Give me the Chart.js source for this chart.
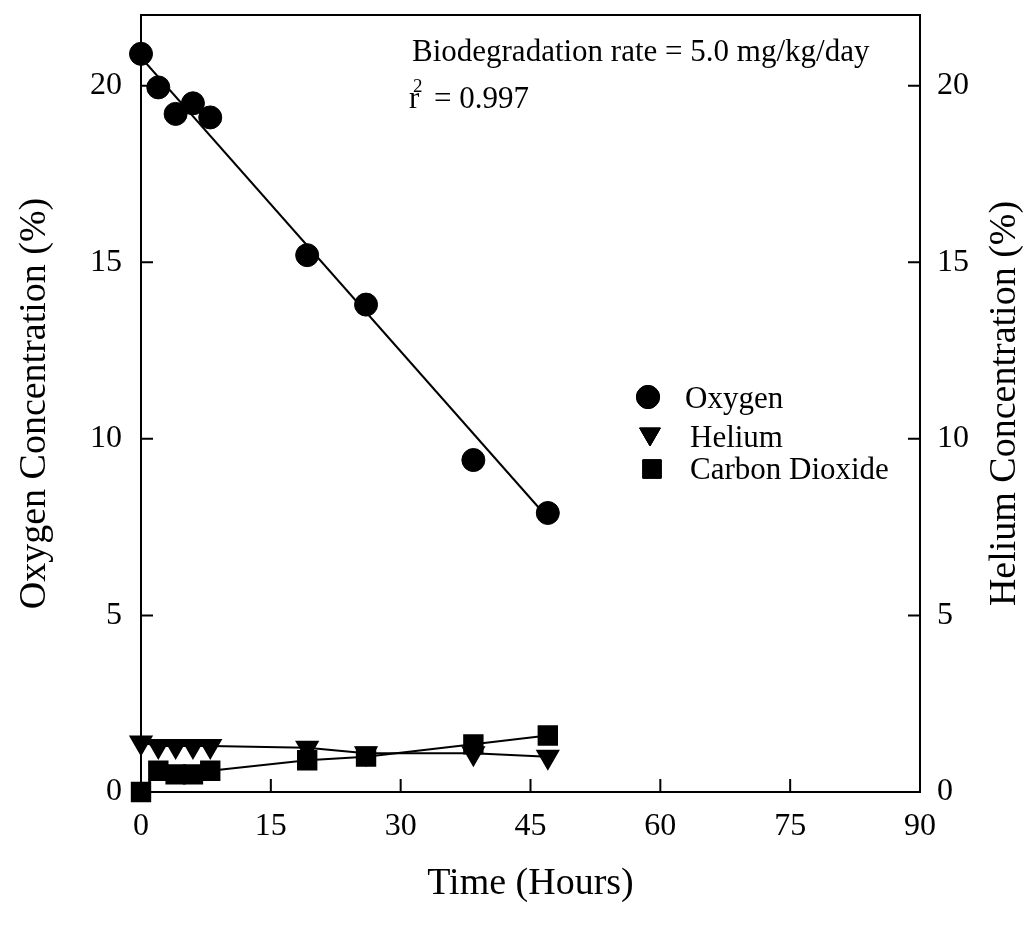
<!DOCTYPE html>
<html>
<head>
<meta charset="utf-8">
<script src="https://cdn.jsdelivr.net/npm/chart.js@4.4.1/dist/chart.umd.min.js"></script>
<style>
  html, body { margin: 0; padding: 0; background: #fff; }
</style>
</head>
<body>
<canvas id="bioChart" width="1034" height="928"></canvas>
<script>
// values
const hours = [0, 2, 4, 6, 8, 19.2, 26, 38.4, 47];
const oxygen = [20.9, 19.95, 19.2, 19.5, 19.1, 15.2, 13.8, 9.4, 7.9];
const helium = [1.4, 1.3, 1.3, 1.3, 1.3, 1.25, 1.1, 1.1, 1.0];
const carbonDioxide = [0, 0.6, 0.5, 0.5, 0.6, 0.9, 1.0, 1.35, 1.6];
const fitHours = [0, 46.5];
const fitOxygen = [20.8, 7.9];
const xTicks = [0, 15, 30, 45, 60, 75, 90];
const yTicks = [0, 5, 10, 15, 20];

const serif = "'Liberation Serif', 'DejaVu Serif', serif";

function toPoints(xs, ys) {
  return xs.map((x, i) => ({ x: x, y: ys[i] }));
}

// box, inward tick marks
const framePlugin = {
  id: 'frame',
  beforeDatasetsDraw(chart) {
    const { ctx, chartArea: a, scales } = chart;
    ctx.save();
    ctx.strokeStyle = '#000';
    ctx.lineWidth = 2;
    ctx.strokeRect(a.left, a.top, a.right - a.left, a.bottom - a.top);
    ctx.beginPath();
    xTicks.forEach(v => {
      if (v === xTicks[0] || v === xTicks[xTicks.length - 1]) return;
      const px = scales.x.getPixelForValue(v);
      ctx.moveTo(px, a.bottom);
      ctx.lineTo(px, a.bottom - 13);
    });
    yTicks.forEach(v => {
      if (v === 0) return;
      const py = scales.y.getPixelForValue(v);
      ctx.moveTo(a.left, py);
      ctx.lineTo(a.left + 12, py);
      ctx.moveTo(a.right, py);
      ctx.lineTo(a.right - 12, py);
    });
    ctx.stroke();
    ctx.restore();
  },
  afterDraw(chart) {
    const { ctx, chartArea: a } = chart;
    ctx.save();
    ctx.fillStyle = '#000';

    // right axis title (reads bottom to top like the left one)
    ctx.font = '38px ' + serif;
    ctx.textAlign = 'center';
    ctx.textBaseline = 'middle';
    ctx.translate(1005, (a.top + a.bottom) / 2);
    ctx.rotate(-Math.PI / 2);
    ctx.fillText('Helium Concentration (%)', 0, 0);
    ctx.setTransform(1, 0, 0, 1, 0, 0);

    // annotation
    ctx.textAlign = 'left';
    ctx.textBaseline = 'alphabetic';
    ctx.font = '31px ' + serif;
    ctx.fillText('Biodegradation rate = 5.0 mg/kg/day', 412, 61);
    ctx.fillText('r', 409, 108);
    ctx.font = '19px ' + serif;
    ctx.fillText('2', 413, 92);
    ctx.font = '31px ' + serif;
    ctx.fillText('= 0.997', 434, 108);

    // legend
    const rows = [
      { ds: 0, mx: 648, my: 397, tx: 685, ty: 408 },
      { ds: 1, mx: 650, my: 434, tx: 690, ty: 447 },
      { ds: 2, mx: 652, my: 469, tx: 690, ty: 479 }
    ];
    rows.forEach(r => {
      const d = chart.data.datasets[r.ds];
      Chart.helpers.drawPoint(ctx, {
        pointStyle: d.pointStyle,
        radius: d.pointRadius,
        rotation: d.pointRotation || 0,
        borderWidth: 1
      }, r.mx, r.my);
      ctx.fillStyle = '#000';
      ctx.strokeStyle = '#000';
      ctx.fill();
      ctx.stroke();
      ctx.font = '31px ' + serif;
      ctx.fillText(d.label, r.tx, r.ty);
    });
    ctx.restore();
  }
};

const ctxBio = document.getElementById('bioChart').getContext('2d');

const bioChart = new Chart(ctxBio, {
  type: 'scatter',
  data: {
    datasets: [
      {
        label: 'Oxygen',
        data: toPoints(hours, oxygen),
        pointStyle: 'circle',
        pointRadius: 11.5,
        pointBackgroundColor: '#000',
        pointBorderColor: '#000',
        showLine: false,
        clip: false,
        yAxisID: 'y'
      },
      {
        label: 'Helium',
        data: toPoints(hours, helium),
        pointStyle: 'triangle',
        pointRotation: 180,
        pointRadius: 12,
        pointBackgroundColor: '#000',
        pointBorderColor: '#000',
        borderColor: '#000',
        borderWidth: 2,
        showLine: true,
        clip: false,
        yAxisID: 'y2'
      },
      {
        label: 'Carbon Dioxide',
        data: toPoints(hours, carbonDioxide),
        pointStyle: 'rect',
        pointRadius: 13,
        pointBackgroundColor: '#000',
        pointBorderColor: '#000',
        borderColor: '#000',
        borderWidth: 2,
        showLine: true,
        clip: false,
        yAxisID: 'y'
      },
      {
        label: 'Oxygen fit',
        data: toPoints(fitHours, fitOxygen),
        pointRadius: 0,
        borderColor: '#000',
        borderWidth: 2,
        showLine: true,
        yAxisID: 'y'
      }
    ]
  },
  options: {
    responsive: false,
    animation: false,
    layout: { padding: { top: 14, left: 0, right: 0, bottom: 0 } },
    plugins: {
      legend: { display: false },
      tooltip: { enabled: false }
    },
    scales: {
      x: {
        type: 'linear',
        position: 'bottom',
        min: 0,
        max: 90,
        afterBuildTicks: s => { s.ticks = xTicks.map(v => ({ value: v })); },
        afterFit: s => { s.height = 136; s.paddingLeft = 0; s.paddingRight = 0; },
        grid: { display: false, drawTicks: false },
        border: { display: false },
        ticks: { color: '#000', font: { family: serif, size: 32 }, padding: 15, maxRotation: 0 },
        title: {
          display: true,
          text: 'Time (Hours)',
          color: '#000',
          font: { family: serif, size: 38 },
          padding: { top: 0, bottom: 21 }
        }
      },
      y: {
        type: 'linear',
        position: 'left',
        min: 0,
        max: 22,
        afterBuildTicks: s => { s.ticks = yTicks.map(v => ({ value: v })); },
        afterFit: s => { s.width = 141; s.paddingTop = 0; s.paddingBottom = 0; },
        grid: { display: false, drawTicks: false },
        border: { display: false },
        ticks: { color: '#000', font: { family: serif, size: 32 }, padding: 19 },
        title: {
          display: true,
          text: 'Oxygen Concentration (%)',
          color: '#000',
          font: { family: serif, size: 38 },
          padding: { top: 12, bottom: 0 }
        }
      },
      y2: {
        type: 'linear',
        position: 'right',
        min: 0,
        max: 22,
        afterBuildTicks: s => { s.ticks = yTicks.map(v => ({ value: v })); },
        afterFit: s => { s.width = 114; s.paddingTop = 0; s.paddingBottom = 0; },
        grid: { display: false, drawTicks: false },
        border: { display: false },
        ticks: { color: '#000', font: { family: serif, size: 32 }, padding: 17 }
      }
    }
  },
  plugins: [framePlugin]
});
</script>
</body>
</html>
